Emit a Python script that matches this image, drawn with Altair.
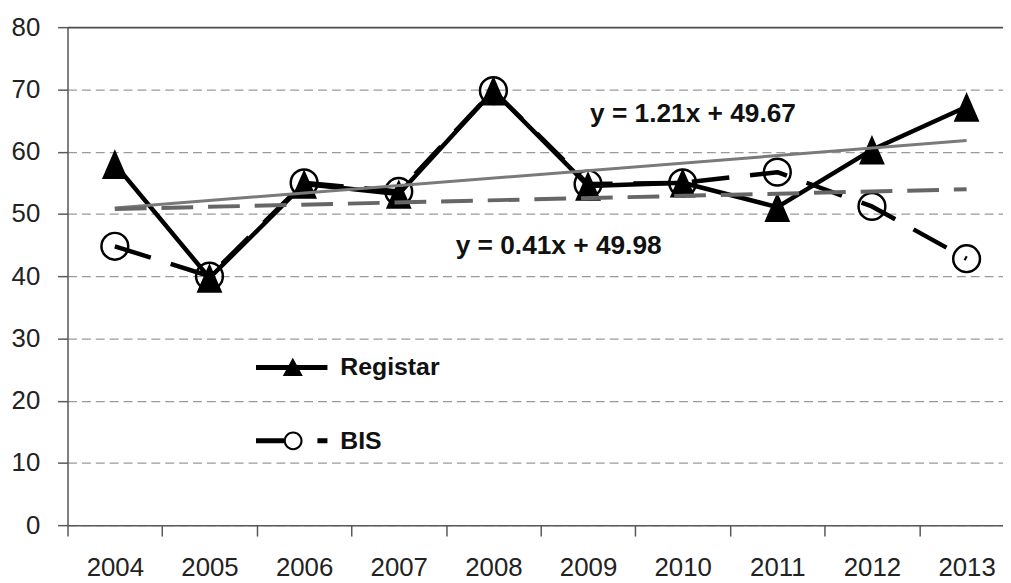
import altair as alt
import pandas as pd

# ---- data ----
years = ["2004", "2005", "2006", "2007", "2008", "2009", "2010", "2011", "2012", "2013"]
registar = [58.0, 39.7, 54.8, 53.2, 69.8, 54.5, 55.0, 51.1, 60.3, 67.2]
bis = [44.8, 40.0, 55.0, 53.6, 69.8, 54.8, 55.0, 56.7, 51.2, 42.8]
series_names = ["Registar", "BIS"]
y_ticks = [0, 10, 20, 30, 40, 50, 60, 70, 80]

# trend-line equation labels (text and anchor in data space)
eq_labels = ["y = 1.21x + 49.67", "y = 0.41x + 49.98"]
eq_years = ["2009", "2008"]
eq_values = [66.1, 44.9]

rows = []
for i, (yr, r, b) in enumerate(zip(years, registar, bis), start=1):
    rows.append({"Year": yr, "i": i, "series": "Registar", "value": r})
    rows.append({"Year": yr, "i": i, "series": "BIS", "value": b})
df = pd.DataFrame(rows)
eq_df = pd.DataFrame({"Year": eq_years, "value": eq_values, "label": eq_labels})

FONT = "Liberation Sans"
AXIS_COLOR = "#595959"

x_enc = alt.X(
    "Year:O",
    bandPosition=0.5,
    scale=alt.Scale(type="band", domain=years, range=[0, 954], paddingInner=0, paddingOuter=0),
    axis=alt.Axis(
        title=None, tickBand="extent", tickSize=11, tickWidth=1.5, tickColor=AXIS_COLOR,
        domainColor=AXIS_COLOR, domainWidth=1.5, labelPadding=19, labelAngle=0,
        labelFont=FONT, labelFontSize=26, labelColor="#222222", grid=False,
    ),
)
y_enc = alt.Y(
    "value:Q",
    scale=alt.Scale(domain=[0, 80], nice=False, zero=True),
    axis=alt.Axis(
        title=None, values=y_ticks, tickSize=10, tickWidth=1.5, tickColor=AXIS_COLOR,
        domainColor=AXIS_COLOR, domainWidth=1.5, labelPadding=18,
        labelFont=FONT, labelFontSize=26, labelColor="#222222",
        grid=True,
        gridDash={"condition": {"test": "datum.value === 80", "value": []}, "value": [9, 5]},
        gridColor={"condition": {"test": "datum.value === 80", "value": "#4d4d4d"}, "value": "#9a9a9a"},
        gridWidth={"condition": {"test": "datum.value === 80", "value": 1.8}, "value": 1.3},
    ),
)

base = alt.Chart(df)

bis_line = base.transform_filter("datum.series === 'BIS'").mark_line(
    color="black", strokeWidth=4.5, strokeDash=[38, 21], strokeJoin="round"
).encode(x=x_enc, y=y_enc)

bis_pts = base.transform_filter("datum.series === 'BIS'").mark_point(
    shape="circle", size=729, filled=False, color="black", strokeWidth=2.5, opacity=1
).encode(x=x_enc, y=y_enc)

reg_line = base.transform_filter("datum.series === 'Registar'").mark_line(
    color="black", strokeWidth=4.5, strokeJoin="round"
).encode(x=x_enc, y=y_enc)

TRI = "M0,-1.15L1,1.15L-1,1.15Z"
reg_pts = base.transform_filter("datum.series === 'Registar'").mark_point(
    shape=TRI, size=676, filled=True, color="black", opacity=1, strokeWidth=0
).encode(x=x_enc, y=y_enc)

# linear trend lines fitted by Vega-Lite (x = 1..10)
reg_trend = base.transform_filter("datum.series === 'Registar'").transform_regression(
    "i", "value", extent=[1, 10]
).transform_calculate(Year="toString(2003 + round(datum.i))").mark_line(
    color="#7a7a7a", strokeWidth=3
).encode(x=x_enc, y=y_enc)

bis_trend = base.transform_filter("datum.series === 'BIS'").transform_regression(
    "i", "value", extent=[1, 10]
).transform_calculate(Year="toString(2003 + round(datum.i))").mark_line(
    color="#666666", strokeWidth=4, strokeDash=[32, 15]
).encode(x=x_enc, y=y_enc)

eq_base = alt.Chart(eq_df)
eq_reg = eq_base.transform_filter("datum.Year === '2009'").mark_text(
    font=FONT, fontSize=26.5, fontWeight="bold", color="#111111", align="left", baseline="middle", dx=2
).encode(x=x_enc, y=y_enc, text="label:N")
eq_bis = eq_base.transform_filter("datum.Year === '2008'").mark_text(
    font=FONT, fontSize=26.5, fontWeight="bold", color="#111111", align="left", baseline="middle", dx=-38
).encode(x=x_enc, y=y_enc, text="label:N")

REG_LEG = "M-1,-0.07H1V0.07H-1Z M0.03,-0.27L0.31,0.24L-0.25,0.24Z"
BIS_LEG = (
    "M-1,-0.07H-0.22V0.07H-1Z M0.72,-0.07H1V0.07H0.72Z "
    "M0.04,-0.264A0.264,0.264 0 1,1 0.04,0.264A0.264,0.264 0 1,1 0.04,-0.264Z "
    "M0.04,-0.205A0.205,0.205 0 1,0 0.04,0.205A0.205,0.205 0 1,0 0.04,-0.205Z"
)

legend_layer = base.transform_filter("false").mark_point(
    filled=True, color="black", size=5184, opacity=1, strokeWidth=0
).encode(
    shape=alt.Shape(
        "series:N",
        scale=alt.Scale(domain=series_names, range=[REG_LEG, BIS_LEG]),
        legend=alt.Legend(
            title=None, orient="none", legendX=190, legendY=307, padding=0, rowPadding=25,
            labelOffset=13, labelFont=FONT, labelFontSize=25, labelFontWeight="bold",
            labelColor="#111111", symbolSize=5184, symbolFillColor="black",
            symbolStrokeColor="black", symbolStrokeWidth=0, symbolOpacity=1, labelLimit=300,
        ),
    )
)

chart = alt.layer(
    bis_line, bis_pts, reg_line, reg_pts, reg_trend, bis_trend, eq_reg, eq_bis, legend_layer
).properties(
    width=943, height=502,
    padding={"left": 60, "top": 17, "right": 0, "bottom": 56},
    autosize=alt.AutoSizeParams(type="none"),
).configure_view(stroke=None).configure(font=FONT, background="white")

chart.save("out.html", embed_options={"renderer": "svg", "actions": False})
